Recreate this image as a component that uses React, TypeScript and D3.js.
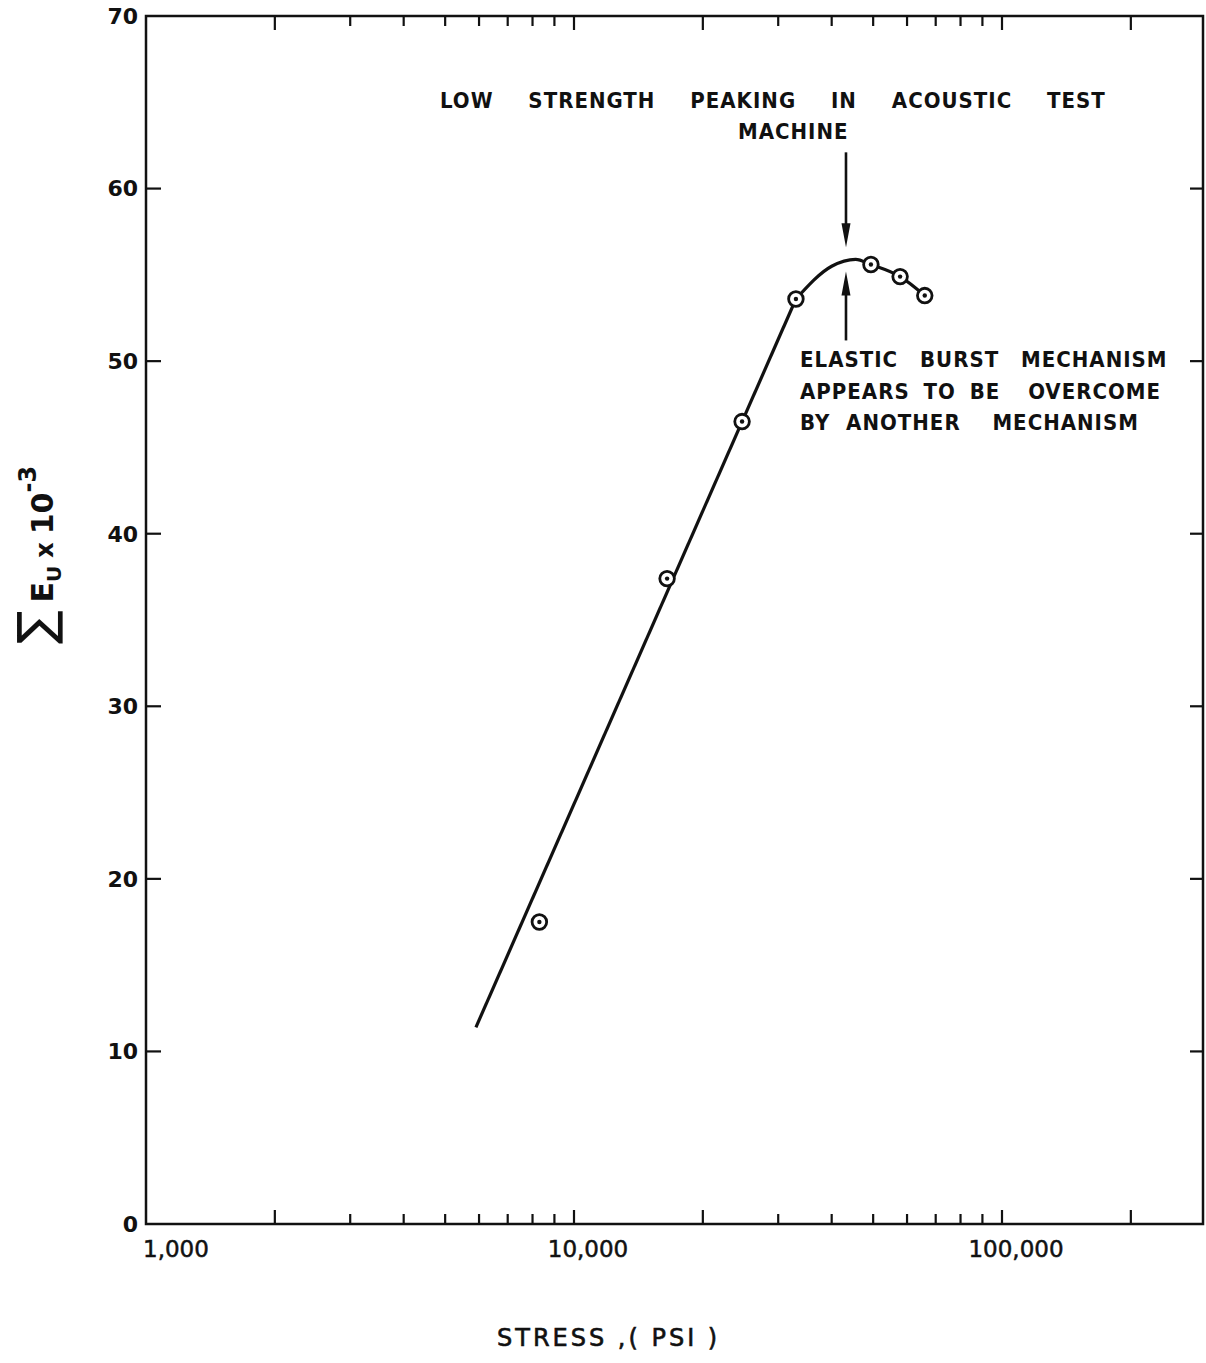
import React, { useRef, useEffect } from "react";
import * as d3 from "d3";

// measured points (stress psi, sum Eu x 10^-3)
const stress = [8300, 16500, 24700, 33000, 49400, 57800, 66000];
const energy = [17.5, 37.4, 46.5, 53.6, 55.6, 54.9, 53.8];

// faired curve as drawn on the sheet: straight rise, then rounded peak
const riseStress = [5900, 33000];
const riseEnergy = [11.4, 53.6];
const peakStress = [33000, 40000, 45500, 49400, 57800, 66000];
const peakEnergy = [53.6, 55.5, 55.9, 55.6, 54.9, 53.8];

// arrows marking the peak
const arrowStress = 43200;
const arrowDown = [62.1, 56.6];
const arrowUp = [51.2, 55.2];

const xLong = [2000, 10000, 20000, 100000, 200000];
const xShort = [3000, 4000, 5000, 6000, 7000, 8000, 9000, 30000, 40000, 50000, 60000, 70000, 80000, 90000];
const xLabelVals = [1000, 10000, 100000];
const xLabelText = ["1,000", "10,000", "100,000"];
const yTicks = [0, 10, 20, 30, 40, 50, 60, 70];

const W = 1206;
const H = 1363;

const App = () => {
  const ref = useRef(null);

  useEffect(() => {
    const svg = d3.select(ref.current);
    svg.selectAll("*").remove();

    const left = 146, right = 1203, top = 16, bottom = 1224;
    const xMax = Math.pow(10, 3 + (right - left) / 428);
    const x = d3.scaleLog([1000, xMax], [left, right]);
    const y = d3.scaleLinear([0, 70], [bottom, top]);

    const ink = "#111";
    const g = svg.append("g");

    // frame
    g.append("rect")
      .attr("x", left).attr("y", top)
      .attr("width", right - left).attr("height", bottom - top)
      .attr("fill", "none").attr("stroke", ink).attr("stroke-width", 2.5);

    // inward x ticks, top and bottom
    const xt = (vals, len) => {
      g.selectAll(null).data(vals).enter().append("line")
        .attr("x1", d => x(d)).attr("x2", d => x(d))
        .attr("y1", bottom).attr("y2", bottom - len)
        .attr("stroke", ink).attr("stroke-width", 2.2);
      g.selectAll(null).data(vals).enter().append("line")
        .attr("x1", d => x(d)).attr("x2", d => x(d))
        .attr("y1", top).attr("y2", top + len)
        .attr("stroke", ink).attr("stroke-width", 2.2);
    };
    xt(xLong, 14);
    xt(xShort, 10);

    // inward y ticks, left and right
    g.selectAll(null).data(yTicks.slice(1, -1)).enter().append("line")
      .attr("x1", left).attr("x2", left + 15)
      .attr("y1", d => y(d)).attr("y2", d => y(d))
      .attr("stroke", ink).attr("stroke-width", 2.2);
    g.selectAll(null).data(yTicks.slice(1, -1)).enter().append("line")
      .attr("x1", right).attr("x2", right - 13)
      .attr("y1", d => y(d)).attr("y2", d => y(d))
      .attr("stroke", ink).attr("stroke-width", 2.2);

    // y tick labels
    g.selectAll(null).data(yTicks).enter().append("text")
      .attr("x", left - 8).attr("y", d => y(d)).attr("dy", "0.36em")
      .attr("text-anchor", "end")
      .attr("font-family", "DejaVu Sans").attr("font-weight", "bold")
      .attr("font-size", 22).attr("fill", ink)
      .text(d => d);

    // x tick labels
    g.selectAll(null).data(xLabelVals).enter().append("text")
      .attr("x", (d, i) => i === 0 ? x(d) - 3 : x(d) + 14)
      .attr("y", 1257)
      .attr("text-anchor", (d, i) => i === 0 ? "start" : "middle")
      .attr("font-family", "DejaVu Sans").attr("font-size", 23)
      .attr("stroke", ink).attr("stroke-width", 0.5)
      .attr("fill", ink)
      .text((d, i) => xLabelText[i]);

    // x title
    g.append("text")
      .attr("x", 497).attr("y", 1346)
      .attr("font-family", "DejaVu Sans").attr("font-size", 24)
      .attr("letter-spacing", 3).attr("fill", ink)
      .attr("stroke", ink).attr("stroke-width", 0.6)
      .style("white-space", "pre")
      .text("STRESS ,( PSI )");

    // y title, rotated
    const yt = g.append("text")
      .attr("transform", "translate(53,555) rotate(-90)")
      .attr("text-anchor", "middle")
      .attr("font-family", "DejaVu Sans").attr("font-weight", "bold")
      .attr("fill", ink);
    yt.append("tspan").attr("font-size", 50).attr("font-weight", "normal").text("\u2211");
    yt.append("tspan").attr("font-size", 30).attr("dx", 8).text("E");
    yt.append("tspan").attr("font-size", 20).attr("dy", 8).text("U");
    yt.append("tspan").attr("font-size", 24).attr("dy", -8).attr("dx", 8).text("x");
    yt.append("tspan").attr("font-size", 30).attr("dx", 8).text("10");
    yt.append("tspan").attr("font-size", 24).attr("dy", -17).text("-3");

    // faired curve
    const lineLin = d3.line().x(d => x(d[0])).y(d => y(d[1]));
    const lineCurve = d3.line().curve(d3.curveMonotoneX).x(d => x(d[0])).y(d => y(d[1]));
    g.append("path")
      .attr("d", lineLin(d3.zip(riseStress, riseEnergy)))
      .attr("fill", "none").attr("stroke", ink).attr("stroke-width", 3.2);
    g.append("path")
      .attr("d", lineCurve(d3.zip(peakStress, peakEnergy)))
      .attr("fill", "none").attr("stroke", ink).attr("stroke-width", 3.2);

    // data points: circle with center dot
    const pts = d3.zip(stress, energy);
    g.selectAll(null).data(pts).enter().append("circle")
      .attr("cx", d => x(d[0])).attr("cy", d => y(d[1])).attr("r", 7.3)
      .attr("fill", "white").attr("stroke", ink).attr("stroke-width", 2.8);
    g.selectAll(null).data(pts).enter().append("circle")
      .attr("cx", d => x(d[0])).attr("cy", d => y(d[1])).attr("r", 2.2)
      .attr("fill", ink);

    // arrows
    const ax = x(arrowStress);
    const arrow = (from, to) => {
      const y0 = y(from), y1 = y(to);
      const dir = Math.sign(y1 - y0);
      g.append("line")
        .attr("x1", ax).attr("x2", ax)
        .attr("y1", y0).attr("y2", y1 - dir * 10)
        .attr("stroke", ink).attr("stroke-width", 2.6);
      g.append("path")
        .attr("d", `M${ax},${y1} L${ax - 4.5},${y1 - dir * 24} L${ax + 4.5},${y1 - dir * 24} Z`)
        .attr("fill", ink);
    };
    arrow(arrowDown[0], arrowDown[1]);
    arrow(arrowUp[0], arrowUp[1]);

    // annotations
    const note = (txt, tx, ty, ws) => g.append("text")
      .attr("x", tx).attr("y", ty)
      .attr("font-family", "'Liberation Sans Narrow', 'DejaVu Sans Condensed', sans-serif")
      .attr("font-weight", "bold").attr("font-size", 22)
      .attr("letter-spacing", 1)
      .attr("word-spacing", ws).attr("fill", ink)
      .style("white-space", "pre")
      .text(txt);
    note("LOW STRENGTH PEAKING IN ACOUSTIC TEST", 440, 108, 27);
    note("MACHINE", 738, 139, 0);
    note("ELASTIC BURST MECHANISM", 800, 367, 14);
    note("APPEARS TO BE  OVERCOME", 800, 399, 6);
    note("BY ANOTHER  MECHANISM", 800, 430, 8);
  }, []);

  return (
    <svg ref={ref} width={W} height={H}
      style={{ position: "absolute", left: 0, top: 0, background: "white" }}>
    </svg>
  );
};

export default App;
